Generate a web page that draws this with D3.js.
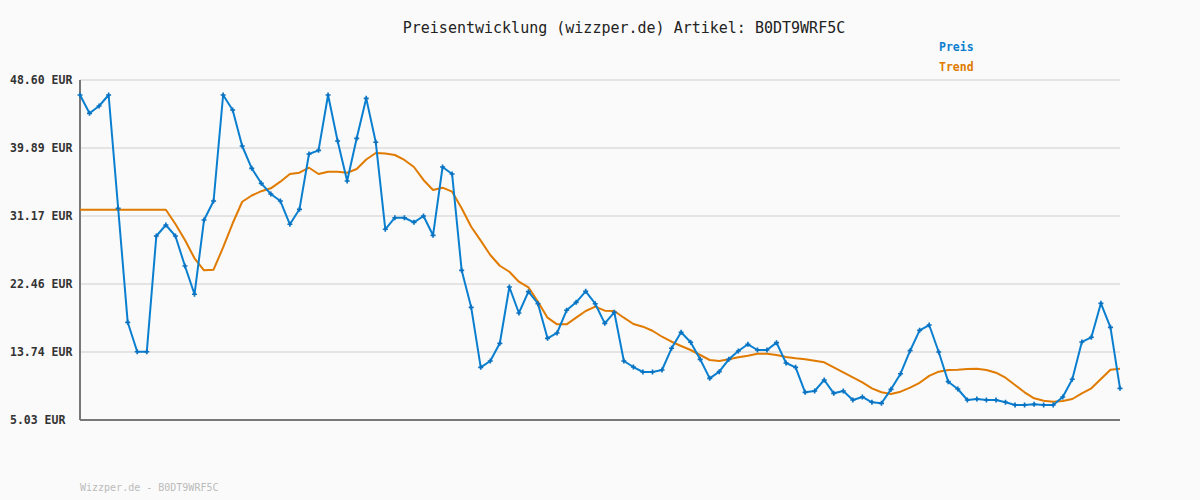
<!DOCTYPE html>
<html>
<head>
<meta charset="utf-8">
<script src="https://cdn.jsdelivr.net/npm/d3@7"></script>
<style>
  body { margin: 0; background: #fafafa; }
  svg { display: block; }
</style>
</head>
<body>
<div id="chart"></div>
<script>
// price history, one value per sample
const preis = [46.68, 44.33, 45.27, 46.68, 32.16, 17.55, 13.78, 13.78, 28.61, 30.02,
  28.61, 24.76, 21.14, 30.66, 33.09, 46.68, 44.76, 40.14, 37.28, 35.36,
  33.99, 33.09, 30.11, 32.03, 39.12, 39.59, 46.68, 40.78, 35.66, 41.13,
  46.25, 40.62, 29.47, 30.95, 30.95, 30.36, 31.17, 28.70, 37.45, 36.55,
  24.21, 19.47, 11.78, 12.59, 14.86, 22.07, 18.74, 21.47, 19.93, 15.50,
  16.18, 19.09, 20.11, 21.52, 19.93, 17.42, 18.83, 12.59, 11.82, 11.18,
  11.18, 11.44, 14.22, 16.27, 14.99, 12.81, 10.37, 11.22, 12.81, 13.87,
  14.73, 14.00, 14.00, 14.94, 12.33, 11.78, 8.58, 8.75, 10.16, 8.45,
  8.75, 7.59, 7.98, 7.30, 7.17, 8.96, 10.96, 13.91, 16.52, 17.20,
  13.74, 9.94, 9.00, 7.59, 7.72, 7.59, 7.59, 7.30, 6.95, 6.95,
  7.04, 6.95, 6.95, 7.98, 10.25, 15.03, 15.63, 19.98, 16.91, 9.09];

const trend = [31.98, 31.98, 31.98, 31.98, 31.98, 31.98, 31.98, 31.98, 31.98, 31.98,
  30.15, 28.10, 25.75, 24.21, 24.29, 27.16, 30.24, 33.00, 33.80, 34.35,
  34.72, 35.57, 36.55, 36.72, 37.36, 36.55, 36.85, 36.85, 36.72, 37.19,
  38.41, 39.24, 39.18, 38.99, 38.35, 37.45, 35.79, 34.50, 34.80, 34.29,
  32.16, 29.80, 28.01, 26.17, 24.80, 24.03, 22.75, 22.04, 20.19, 18.14,
  17.29, 17.29, 18.14, 19.00, 19.55, 19.04, 19.00, 18.14, 17.33, 16.99,
  16.47, 15.70, 15.06, 14.51, 14.00, 13.36, 12.72, 12.59, 12.81, 13.06,
  13.27, 13.53, 13.53, 13.36, 13.10, 12.94, 12.81, 12.63, 12.42, 11.78,
  11.14, 10.50, 9.86, 9.09, 8.58, 8.36, 8.66, 9.17, 9.80, 10.69,
  11.22, 11.44, 11.48, 11.57, 11.60, 11.44, 11.09, 10.45, 9.52, 8.58,
  7.81, 7.50, 7.38, 7.46, 7.72, 8.45, 9.09, 10.28, 11.48, 11.60];

const yTicks = [5.03, 13.74, 22.46, 31.17, 39.89, 48.60];
const seriesNames = ["Preis", "Trend"];
const seriesColors = ["#0a7fd0", "#e07b00"];

const W = 1200, H = 500;
const margin = {top: 80, right: 80, bottom: 80, left: 80};
const width = W - margin.left - margin.right;
const height = H - margin.top - margin.bottom;
const mono = "'DejaVu Sans Mono', 'Liberation Mono', monospace";

const svg = d3.select("#chart").append("svg")
  .attr("width", W)
  .attr("height", H)
  .style("background", "#fafafa");

const x = d3.scaleLinear().domain([0, preis.length - 1]).range([0, width]);
const y = d3.scaleLinear().domain([yTicks[0], yTicks[yTicks.length - 1]]).range([height, 0]);

const g = svg.append("g").attr("transform", `translate(${margin.left},${margin.top})`);

// grid lines
g.append("g")
  .selectAll("line")
  .data(yTicks)
  .join("line")
  .attr("x1", 0).attr("x2", width)
  .attr("y1", d => y(d)).attr("y2", d => y(d))
  .attr("stroke", "#e4e4e4")
  .attr("stroke-width", 2);

// y labels
svg.append("g")
  .selectAll("text")
  .data(yTicks)
  .join("text")
  .attr("x", 10)
  .attr("y", d => margin.top + y(d) + 4)
  .attr("font-family", mono)
  .attr("font-size", 11.5)
  .attr("font-weight", "bold")
  .attr("fill", "#333")
  .text(d => d.toFixed(2) + " EUR");

// axes lines
g.append("line")
  .attr("x1", 0).attr("x2", 0).attr("y1", 0).attr("y2", height)
  .attr("stroke", "#777").attr("stroke-width", 2);
g.append("line")
  .attr("x1", 0).attr("x2", width).attr("y1", height).attr("y2", height)
  .attr("stroke", "#777").attr("stroke-width", 2);

const line = d3.line()
  .x((d, i) => x(i))
  .y(d => y(d));

g.append("path")
  .datum(trend)
  .attr("fill", "none")
  .attr("stroke", seriesColors[1])
  .attr("stroke-width", 2)
  .attr("stroke-linejoin", "round")
  .attr("d", line);

g.append("path")
  .datum(preis)
  .attr("fill", "none")
  .attr("stroke", seriesColors[0])
  .attr("stroke-width", 2)
  .attr("stroke-linejoin", "round")
  .attr("d", line);

// small markers on price points
g.append("g")
  .selectAll("path")
  .data(preis)
  .join("path")
  .attr("transform", (d, i) => `translate(${x(i)},${y(d)})`)
  .attr("d", d3.symbol().type(d3.symbolCross).size(14))
  .attr("fill", "#0a72c0");

// title
svg.append("text")
  .attr("x", 624)
  .attr("y", 33)
  .attr("text-anchor", "middle")
  .attr("font-family", mono)
  .attr("font-size", 15)
  .attr("fill", "#222")
  .text("Preisentwicklung (wizzper.de) Artikel: B0DT9WRF5C");

// legend
svg.append("g")
  .selectAll("text")
  .data(seriesNames)
  .join("text")
  .attr("x", 939)
  .attr("y", (d, i) => 51 + i * 20)
  .attr("font-family", mono)
  .attr("font-size", 11.5)
  .attr("font-weight", "bold")
  .attr("fill", (d, i) => seriesColors[i])
  .text(d => d);

// footer
svg.append("text")
  .attr("x", 80)
  .attr("y", 491)
  .attr("font-family", mono)
  .attr("font-size", 10)
  .attr("fill", "#bbb")
  .text("Wizzper.de - B0DT9WRF5C");
</script>
</body>
</html>
